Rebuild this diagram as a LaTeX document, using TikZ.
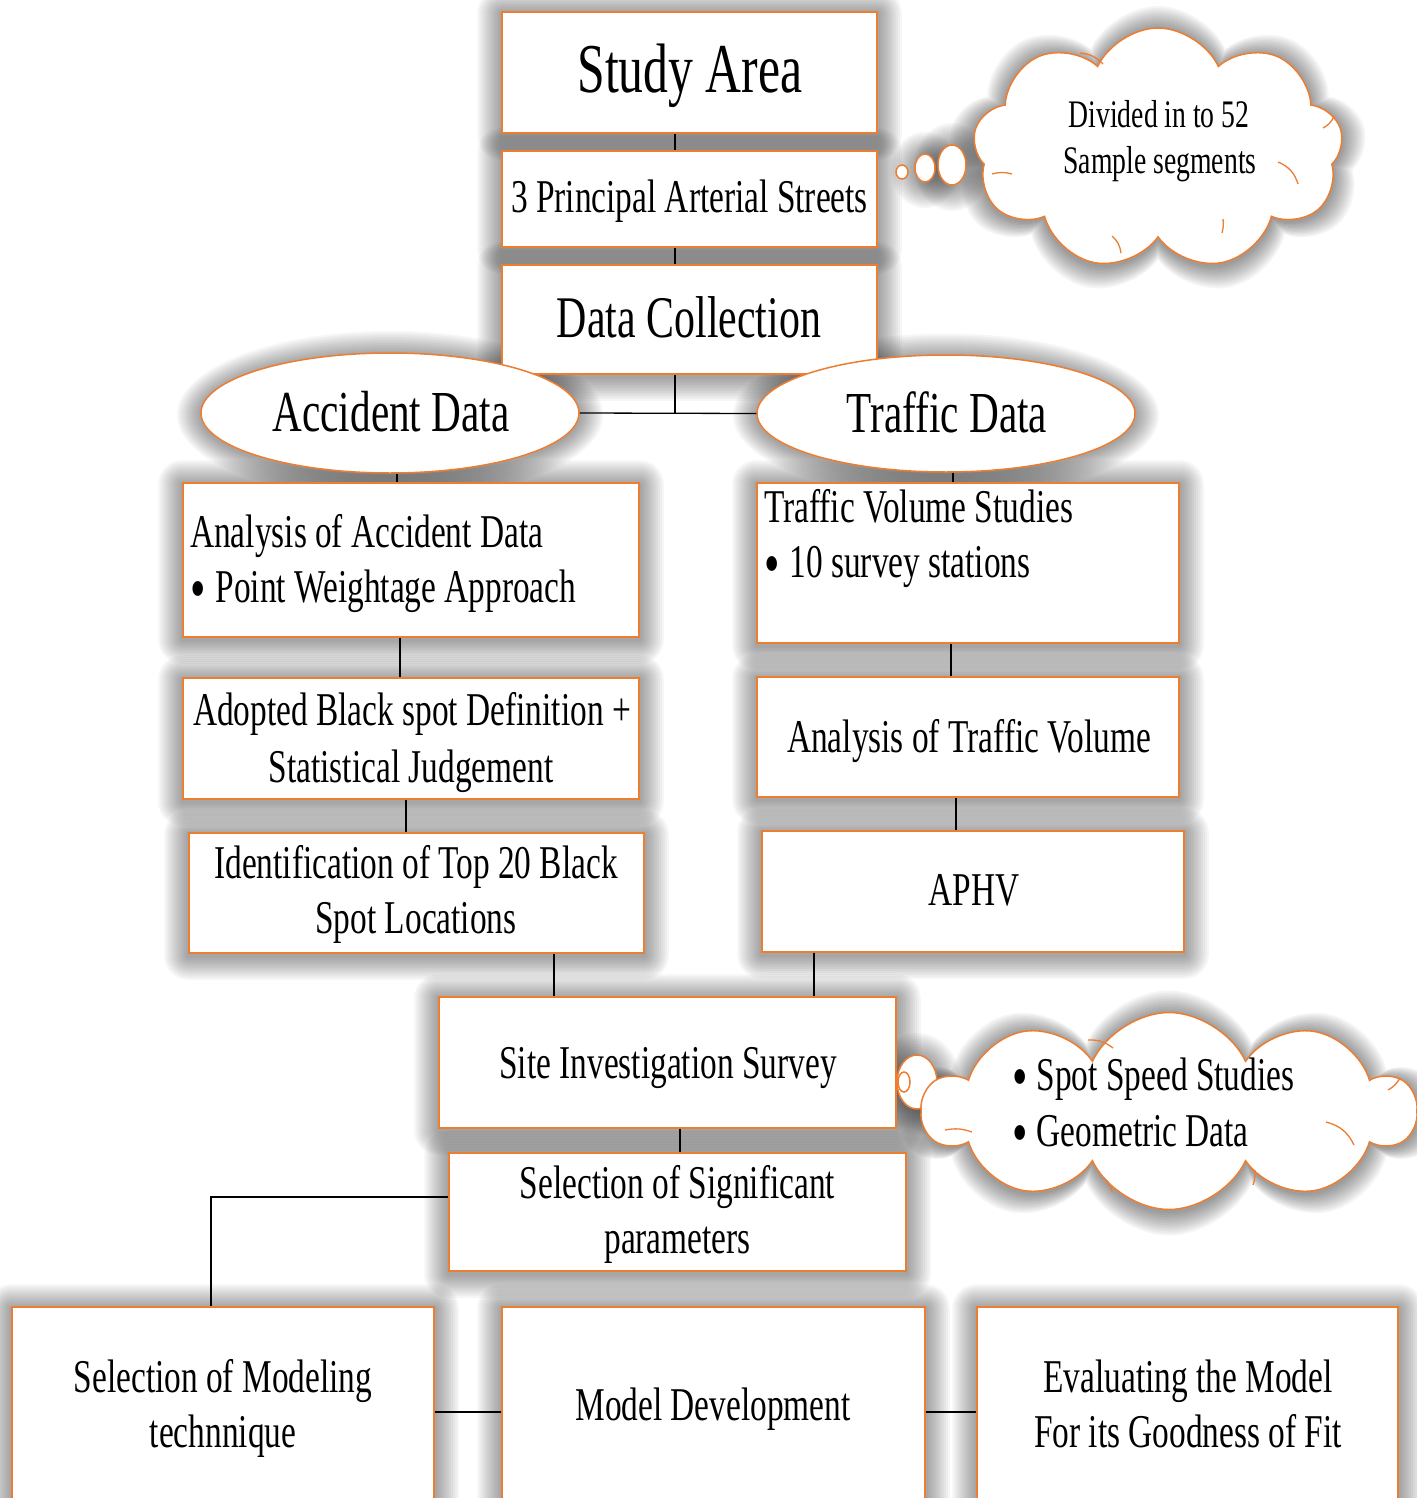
\documentclass[tikz,border=0pt]{standalone}
\usepackage{fontspec}
\setmainfont{Liberation Serif}[FakeStretch=0.71]
\usetikzlibrary{shapes.geometric,shapes.symbols,backgrounds}
\definecolor{orng}{HTML}{ED7D31}
\newcommand\bul{\raisebox{-7pt}{\fontsize{62}{62}\selectfont •}}
\newcommand\rshadow[1]{\foreach \d in {2,4,...,24}{\fill[black, opacity=0.036, rounded corners=\d pt] ([shift={(-\d,\d+2)}]#1.south west) rectangle ([shift={(\d,-\d+2)}]#1.north east);}}
\newcommand\eshadow[3]{\foreach \d in {2,4,...,24}{\fill[black, opacity=0.036] ([shift={(0,2)}]#1.center) ellipse [x radius={#2+\d}, y radius={#3+\d}];}}
\begin{document}
\begin{tikzpicture}[x=1pt,y=-1pt,
  box/.style={rectangle, draw=orng, line width=1.5pt, fill=white, inner sep=0pt},
  ell/.style={ellipse, draw=orng, line width=1.5pt, fill=white, inner sep=0pt},
  bub/.style={ellipse, draw=orng, line width=1.5pt, fill=white, inner sep=0pt},
  cloudsty/.style={cloud, cloud puffs=9, cloud puff arc=130, cloud ignores aspect, draw=orng, line width=1.5pt, fill=white, inner sep=0pt},
  cloudsh/.style={cloud, cloud puff arc=130, cloud ignores aspect, fill=black, opacity=0.04, inner sep=0pt},
  txt/.style={inner sep=0pt, anchor=base, font=\fontsize{47}{56}\selectfont},
  txtl/.style={txt, anchor=base west},
  con/.style={draw=black, line width=1.3pt},
  arcl/.style={draw=orng, line width=1.3pt}]
\useasboundingbox (0,0) rectangle (1416,1498);

% boxes
\node[box, minimum width=375pt, minimum height=121pt] (study) at (689.5,72.5) {};
\node[box, minimum width=375pt, minimum height=96pt] (princ) at (689.5,199) {};
\node[box, minimum width=375pt, minimum height=109pt] (data) at (689.5,319.5) {};
\node[ell, minimum width=378pt, minimum height=120pt] (acc) at (390,413) {};
\node[ell, minimum width=378pt, minimum height=117pt] (traf) at (946,413.5) {};
\node[box, minimum width=456pt, minimum height=154pt] (aad) at (411,560) {};
\node[box, minimum width=456pt, minimum height=121pt] (adopt) at (411,738.5) {};
\node[box, minimum width=455pt, minimum height=120pt] (ident) at (416.5,893) {};
\node[box, minimum width=422pt, minimum height=160pt] (tvs) at (968,563) {};
\node[box, minimum width=422pt, minimum height=120pt] (atv) at (968,737) {};
\node[box, minimum width=422pt, minimum height=121pt] (aphv) at (973,891.5) {};
\node[box, minimum width=457pt, minimum height=131pt] (site) at (667.5,1062.5) {};
\node[box, minimum width=457pt, minimum height=118pt] (sel) at (677.5,1212) {};
\node[box, minimum width=422pt, minimum height=253pt] (smt) at (223,1433.5) {};
\node[box, minimum width=423pt, minimum height=253pt] (md) at (713.5,1433.5) {};
\node[box, minimum width=421pt, minimum height=253pt] (eval) at (1187.5,1433.5) {};

% thought clouds
\node[bub, minimum width=12pt, minimum height=14pt] (b1) at (902,172) {};
\node[bub, minimum width=20pt, minimum height=28pt] (b2) at (925,168) {};
\node[bub, minimum width=28pt, minimum height=40pt] (b3) at (952,165) {};
\node[cloudsty, minimum width=370pt, minimum height=242pt] (cl1) at (1158,149) {};
\draw[arcl] (1080,53) to[bend left=20] (1103,64);
\draw[arcl] (1323,128) to[bend right=20] (1334,116);
\draw[arcl] (1278,162) to[bend left=25] (1298,184);
\draw[arcl] (992,174) to[bend left=15] (1012,174);
\draw[arcl] (1112,236) to[bend left=20] (1121,253);
\draw[arcl] (1223,219) to[bend left=10] (1222,233);

\node[bub, minimum width=40pt, minimum height=54pt] (b4) at (917,1082) {};
\node[bub, minimum width=12pt, minimum height=20pt] (b5) at (904,1082) {};
\node[cloudsty, cloud puffs=10, minimum width=492pt, minimum height=197pt] (cl2) at (1169,1111) {};
\draw[arcl] (1088,1040) to[bend left=20] (1113,1048);
\draw[arcl] (1388,1090) to[bend right=15] (1400,1078);
\draw[arcl] (1326,1122) to[bend left=25] (1354,1145);
\draw[arcl] (945,1130) to[bend left=15] (972,1132);
\draw[arcl] (1104,1178) to[bend left=20] (1112,1192);
\draw[arcl] (1255,1170) to[bend left=10] (1253,1185);

% soft shadows behind everything
\begin{scope}[on background layer]
  \rshadow{study}\rshadow{princ}\rshadow{data}
  \rshadow{aad}\rshadow{adopt}\rshadow{ident}
  \rshadow{tvs}\rshadow{atv}\rshadow{aphv}
  \rshadow{site}\rshadow{sel}
  \rshadow{smt}\rshadow{md}\rshadow{eval}
  \eshadow{acc}{189}{60}
  \eshadow{traf}{189}{58}
  \eshadow{b3}{14}{20}
  \eshadow{b2}{10}{14}
  \eshadow{b4}{20}{27}
  \foreach \d in {2,4,...,24}{
    \node[cloudsh, cloud puffs=9, minimum width={370+2*\d}, minimum height={242+2*\d}] (csa\d) at (1158,151) {};
    \node[cloudsh, cloud puffs=10, minimum width={492+2*\d}, minimum height={197+2*\d}] (csb\d) at (1169,1113) {};
  }
\end{scope}

% connector helper coordinates
\coordinate (c675) at (675,0);
\coordinate (c397) at (397,0);
\coordinate (c400) at (400,0);
\coordinate (c406) at (406,0);
\coordinate (c953) at (953,0);
\coordinate (c951) at (951,0);
\coordinate (c956) at (956,0);
\coordinate (c554) at (554,0);
\coordinate (c814) at (814,0);
\coordinate (c680) at (680,0);
\coordinate (jl) at (211,1197);
\coordinate (hb) at (0,1412);

% connectors
\draw[con] (study.south -| c675) -- (princ.north -| c675);
\draw[con] (princ.south -| c675) -- (data.north -| c675);
\draw[con] (data.south -| c675) -- (c675 |- acc.east);
\draw[con] (acc.east) -- (traf.west);
\draw[con] (acc.south -| c397) -- (aad.north -| c397);
\draw[con] (aad.south -| c400) -- (adopt.north -| c400);
\draw[con] (adopt.south -| c406) -- (ident.north -| c406);
\draw[con] (traf.south -| c953) -- (tvs.north -| c953);
\draw[con] (tvs.south -| c951) -- (atv.north -| c951);
\draw[con] (atv.south -| c956) -- (aphv.north -| c956);
\draw[con] (ident.south -| c554) -- (site.north -| c554);
\draw[con] (aphv.south -| c814) -- (site.north -| c814);
\draw[con] (site.south -| c680) -- (sel.north -| c680);
\draw[con] (sel.west |- jl) -- (jl) -- (jl |- smt.north);
\draw[con] (smt.east |- hb) -- (md.west |- hb);
\draw[con] (md.east |- hb) -- (eval.west |- hb);

% texts
\node[txt, font=\fontsize{70}{80}\selectfont] (tstudy) at (690,93) {Study Area};
\node[txt] (tprinc) at (689.5,212) {3 Principal Arterial Streets};
\node[txt, font=\fontsize{59}{66}\selectfont] (tdata) at (689,337) {Data Collection};
\node[txt, font=\fontsize{58}{66}\selectfont] (tacc) at (391,431) {Accident Data};
\node[txt, font=\fontsize{58}{66}\selectfont] (ttraf) at (947,432) {Traffic Data};
\node[txtl] (taad1) at (190,547) {Analysis of Accident Data};
\node[txtl] (taad2) at (190,602) {\bul\hspace{10pt}Point Weightage Approach};
\node[txt] (tadopt1) at (412,725) {Adopted Black spot Definition +};
\node[txt] (tadopt2) at (411,782) {Statistical Judgement};
\node[txt] (tident1) at (416,878) {Identification of Top 20 Black};
\node[txt] (tident2) at (416,933) {Spot Locations};
\node[txtl] (ttvs1) at (764,522) {Traffic Volume Studies};
\node[txtl] (ttvs2) at (764,577) {\bul\hspace{10pt}10 survey stations};
\node[txt] (tatv) at (969,752) {Analysis of Traffic Volume};
\node[txt] (taphv) at (974,905) {APHV};
\node[txt] (tsite) at (668,1078) {Site Investigation Survey};
\node[txt] (tsel1) at (677.5,1198) {Selection of Significant};
\node[txt] (tsel2) at (677.5,1253) {parameters};
\node[txt] (tsmt1) at (223,1392) {Selection of Modeling};
\node[txt] (tsmt2) at (223,1447) {technnique};
\node[txt] (tmd) at (713,1420) {Model Development};
\node[txt] (teval1) at (1188,1392) {Evaluating the Model};
\node[txt] (teval2) at (1188,1447) {For its Goodness of Fit};
\node[txt, font=\fontsize{39}{46}\selectfont] (tcl1a) at (1159,128) {Divided in to 52};
\node[txt, font=\fontsize{39}{46}\selectfont] (tcl1b) at (1160,174) {Sample segments};
\node[txtl] (tcl2a) at (1012,1090) {\bul\hspace{9pt}Spot Speed Studies};
\node[txtl] (tcl2b) at (1012,1146) {\bul\hspace{9pt}Geometric Data};
\end{tikzpicture}
\end{document}
